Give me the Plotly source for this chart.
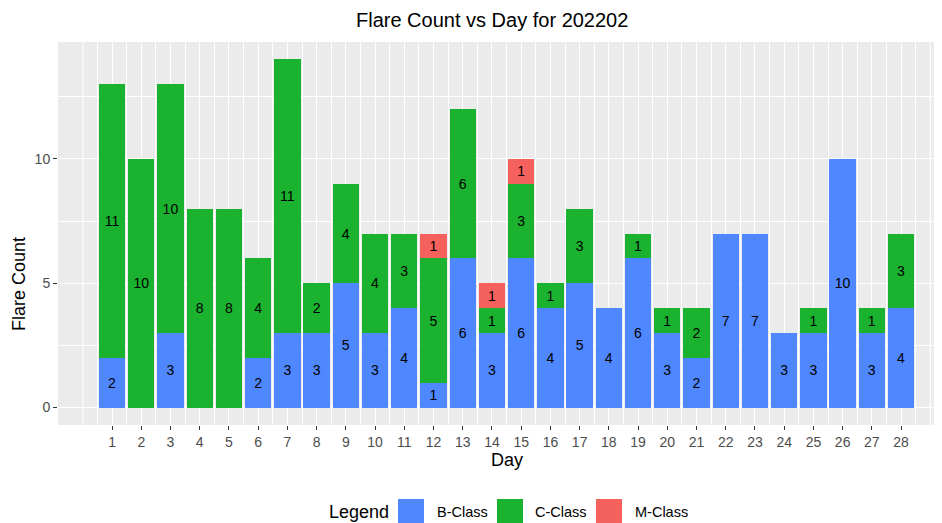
import plotly.graph_objects as go

days = list(range(1, 29))
b_class = [2, 0, 3, 0, 0, 2, 3, 3, 5, 3, 4, 1, 6, 3, 6, 4, 5, 4, 6, 3, 2, 7, 7, 3, 3, 10, 3, 4]
c_class = [11, 10, 10, 8, 8, 4, 11, 2, 4, 4, 3, 5, 6, 1, 3, 1, 3, 0, 1, 1, 2, 0, 0, 0, 1, 0, 1, 3]
m_class = [0, 0, 0, 0, 0, 0, 0, 0, 0, 0, 0, 1, 0, 1, 1, 0, 0, 0, 0, 0, 0, 0, 0, 0, 0, 0, 0, 0]

series = [("B-Class", b_class, "#4F87FF"),
          ("C-Class", c_class, "#1AB22E"),
          ("M-Class", m_class, "#F5615C")]

FONT = "Liberation Sans, Arial, sans-serif"
OFF = 8  # page body margin
W, H = 942 - OFF, 523 - OFF
ML, MR, MT = 58 - OFF, 0, 42 - OFF
MB = H - (425 - OFF)
PW, PH = W - ML - MR, H - MT - MB


def px(x):
    return (x - OFF - ML) / PW


def py(y):
    return (H - MB - (y - OFF)) / PH


fig = go.Figure()
for name, vals, col in series:
    fig.add_trace(go.Bar(
        x=days, y=vals, name=name, width=0.9,
        marker=dict(color=col, line=dict(width=0)),
        text=[str(v) if v > 0 else "" for v in vals],
        textposition="inside", insidetextanchor="middle", textangle=0,
        textfont=dict(family=FONT, size=14, color="black"),
        constraintext="none", showlegend=False,
        hovertemplate="Day %{x}<br>" + name + ": %{y}<extra></extra>",
    ))

shapes = []
for xv in [0, 29]:
    shapes.append(dict(type="line", xref="x", yref="paper", x0=xv, x1=xv, y0=0, y1=1,
                       line=dict(color="white", width=1.1), layer="below"))

annotations = [
    dict(text="Flare Count vs Day for 202202", xref="paper", yref="paper",
         x=px(492), y=py(20), xanchor="center", yanchor="middle",
         showarrow=False, font=dict(family=FONT, size=20, color="black")),
    dict(text="Day", xref="paper", yref="paper",
         x=px(507), y=py(460), xanchor="center", yanchor="middle",
         showarrow=False, font=dict(family=FONT, size=18, color="black")),
    dict(text="Flare Count", xref="paper", yref="paper", textangle=-90,
         x=px(19), y=py(284), xanchor="center", yanchor="middle",
         showarrow=False, font=dict(family=FONT, size=18, color="black")),
    dict(text="Legend", xref="paper", yref="paper",
         x=px(327), y=py(512), xanchor="left", yanchor="middle",
         showarrow=False, font=dict(family=FONT, size=18, color="black")),
]

legend_items = [("B-Class", "#4F87FF", 398, 435),
                ("C-Class", "#1AB22E", 497, 533),
                ("M-Class", "#F5615C", 596, 633)]
for name, col, kx, tx in legend_items:
    shapes.append(dict(type="rect", xref="paper", yref="paper",
                       x0=px(kx), x1=px(kx + 26), y0=py(525), y1=py(499),
                       fillcolor=col, line=dict(width=0)))
    annotations.append(dict(text=name, xref="paper", yref="paper",
                            x=px(tx), y=py(512),
                            xanchor="left", yanchor="middle", showarrow=False,
                            font=dict(family=FONT, size=14.5, color="black")))

fig.update_layout(
    width=W, height=H,
    margin=dict(l=ML, r=MR, t=MT, b=MB, autoexpand=False),
    paper_bgcolor="white", plot_bgcolor="#EBEBEB",
    barmode="stack", bargap=0.1,
    font=dict(family=FONT),
    shapes=shapes, annotations=annotations,
    xaxis=dict(range=[-0.85, 29.4], tickvals=days, ticktext=[str(d) for d in days],
               showgrid=True, gridcolor="white", gridwidth=1.1, zeroline=False,
               ticks="outside", ticklen=4, tickwidth=1.1, tickcolor="#333333",
               tickfont=dict(family=FONT, size=14, color="#4D4D4D"),
               minor=dict(tickvals=[d + 0.5 for d in range(0, 29)], showgrid=True,
                          gridcolor="white", gridwidth=0.5, ticklen=0),
               showline=False, fixedrange=True),
    yaxis=dict(range=[-0.7, 14.7], tickvals=[0, 5, 10],
               showgrid=True, gridcolor="white", gridwidth=1.1, zeroline=False,
               ticks="outside", ticklen=4, tickwidth=1.1, tickcolor="#333333",
               tickfont=dict(family=FONT, size=14, color="#4D4D4D"),
               minor=dict(tickvals=[2.5, 7.5, 12.5], showgrid=True,
                          gridcolor="white", gridwidth=0.5, ticklen=0),
               showline=False, fixedrange=True),
)

fig.write_html("out.html")
